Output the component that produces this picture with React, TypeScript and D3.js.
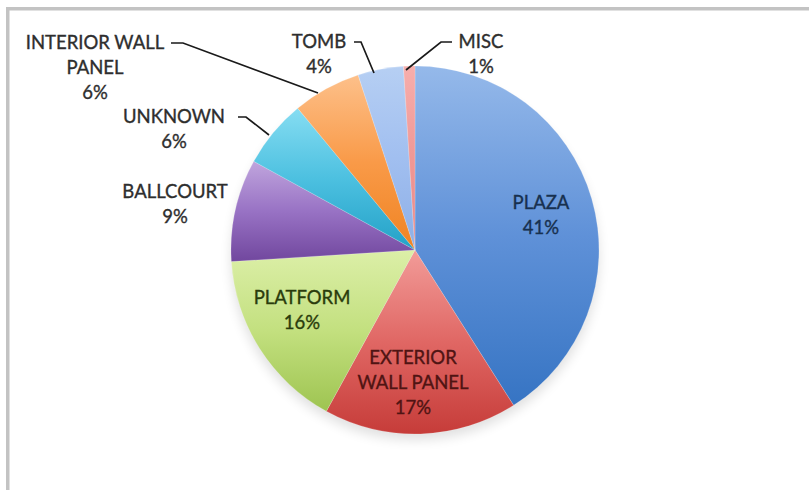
import React from "react";
import * as d3 from "d3";

const categories = ["PLAZA", "EXTERIOR WALL PANEL", "PLATFORM", "BALLCOURT", "UNKNOWN", "INTERIOR WALL PANEL", "TOMB", "MISC"];
const values = [41, 17, 16, 9, 6, 6, 4, 1];
const percentLabels = ["41%", "17%", "16%", "9%", "6%", "6%", "4%", "1%"];

const W = 809;
const H = 490;
const cx = 415;
const cy = 250;
const R = 184;

const gradStops: [string, string, string][] = [
  ["#95b9ea", "#5f91d8", "#3674c3"],
  ["#f29c99", "#e06764", "#c63c39"],
  ["#dcefa8", "#c3e07f", "#9ec451"],
  ["#c0a5dd", "#9872c4", "#71479e"],
  ["#86ddf2", "#4cc0e0", "#23a1c7"],
  ["#fdc08a", "#f99a48", "#ef8322"],
  ["#b6cff3", "#a1bff0", "#8eafe6"],
  ["#f7aeac", "#ef9896", "#e7898a"],
];

const innerColors = ["#17304f", "#4f1413", "#2a3c0c", "", "", "", "", ""];

type LabelSpec = { lines: string[]; x: number; y: number; leader?: [number, number][] };
const labelSpecs: LabelSpec[] = [
  { lines: ["PLAZA", "41%"], x: 541, y: 209 },
  { lines: ["EXTERIOR", "WALL PANEL", "17%"], x: 413, y: 364 },
  { lines: ["PLATFORM", "16%"], x: 302, y: 304 },
  { lines: ["BALLCOURT", "9%"], x: 175, y: 198 },
  { lines: ["UNKNOWN", "6%"], x: 174, y: 123, leader: [[238, 117], [246, 117], [269, 135]] },
  { lines: ["INTERIOR WALL", "PANEL", "6%"], x: 95, y: 49, leader: [[171, 43], [183, 43], [318, 93]] },
  { lines: ["TOMB", "4%"], x: 319, y: 48, leader: [[354, 42], [361, 42], [374, 73]] },
  { lines: ["MISC", "1%"], x: 481, y: 48, leader: [[452, 42], [441, 42], [406, 70]] },
];

export default function App() {
  const pie = d3.pie<number>().sort(null).value((d) => d);
  const arcs = pie(values);
  const arcGen = d3.arc<d3.PieArcDatum<number>>().innerRadius(0).outerRadius(R);
  const line = d3.line();
  const lh = 24.8;

  return (
    <svg width={W} height={H} style={{ position: "absolute", left: 0, top: 0, background: "#fff" }}>
      <defs>
        {gradStops.map((g, i) => (
          <linearGradient key={i} id={`g${i}`} x1={0} y1={0} x2={0} y2={1}>
            <stop offset="0" stopColor={g[0]} />
            <stop offset="0.5" stopColor={g[1]} />
            <stop offset="1" stopColor={g[2]} />
          </linearGradient>
        ))}
        <filter id="blur" x="-50%" y="-50%" width="200%" height="200%">
          <feGaussianBlur stdDeviation="6" />
        </filter>
      </defs>
      <rect x={0} y={0} width={W} height={H} fill="#fff" />
      <rect x={6} y={7} width={W - 6} height={3.5} fill="#c3c3c3" />
      <rect x={6} y={7} width={3.5} height={H - 7} fill="#c3c3c3" />
      <ellipse cx={cx} cy={cy + 8} rx={R} ry={R - 2} fill="#000" opacity={0.12} filter="url(#blur)" />
      <g transform={`translate(${cx},${cy})`}>
        {arcs.map((a, i) => (
          <path key={categories[i]} d={arcGen(a) || ""} fill={`url(#g${i})`} stroke="rgba(255,255,255,0.3)" strokeWidth={0.6} />
        ))}
      </g>
      {labelSpecs.map((s, i) => (
        <g key={i}>
          {s.leader && <path d={line(s.leader) || ""} fill="none" stroke="#1a1a1a" strokeWidth={1.7} />}
          {[...s.lines.slice(0, -1), percentLabels[i]].map((t, j) => (
            <text
              key={j}
              x={s.x}
              y={s.y + j * lh}
              textAnchor="middle"
              fontFamily="Lato, 'Open Sans', sans-serif"
              fontSize={18.5}
              fill={innerColors[i] || "#2e2e2e"}
              stroke={innerColors[i] || "#2e2e2e"}
              strokeWidth={0.35}
            >
              {t}
            </text>
          ))}
        </g>
      ))}
    </svg>
  );
}
